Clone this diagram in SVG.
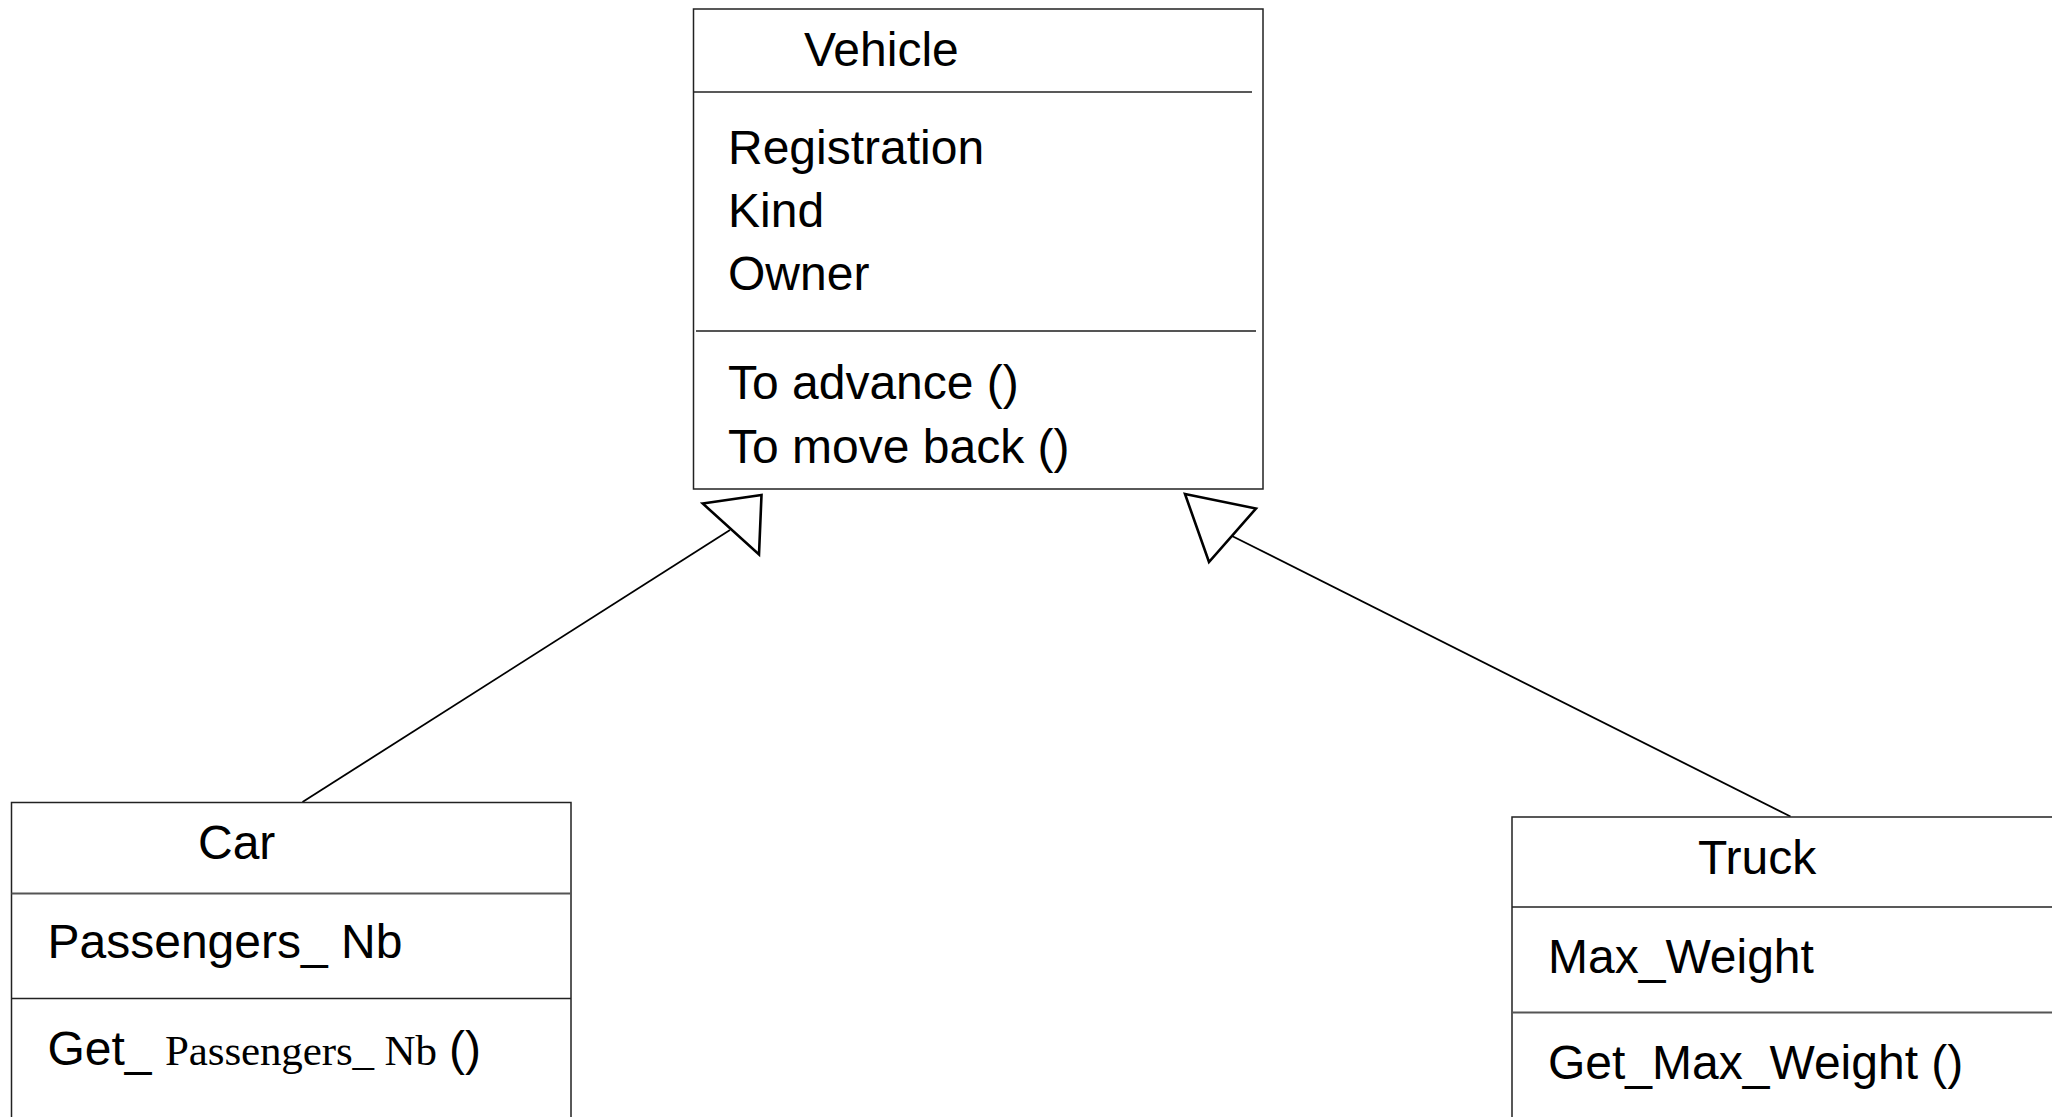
<svg xmlns="http://www.w3.org/2000/svg" width="2052" height="1117" viewBox="0 0 2052 1117">
<style>
.box{fill:#fff;stroke:#222;stroke-width:1.5}
.div{stroke:#222;stroke-width:1.5}
.div2{stroke:#555;stroke-width:2}
.t{font-family:"Liberation Sans",Arial,sans-serif;font-size:48px;fill:#000}
.s{font-family:"Liberation Serif","Times New Roman",serif;font-size:43px;fill:#000}
.edge{stroke:#000;stroke-width:1.8;fill:none}
.head{stroke:#000;stroke-width:2.6;fill:#fff;stroke-linejoin:miter}
</style>
<rect width="2052" height="1117" fill="#fff"/>
<g id="connectors">
<line class="edge" x1="302.5" y1="802" x2="730" y2="530"/>
<polygon class="head" points="702.7,503.5 761.5,495 759,554.5"/>
<line class="edge" x1="1790.5" y1="816.5" x2="1232" y2="536"/>
<polygon class="head" points="1185,494 1256,508.5 1209,562"/>
</g>
<g id="vehicle">
<rect class="box" x="693.5" y="9" width="569.5" height="480"/>
<line class="div" x1="693.5" y1="92" x2="1252" y2="92"/>
<line class="div2" x1="696" y1="331" x2="1256" y2="331"/>
<text class="t" x="804" y="66">Vehicle</text>
<text class="t" x="728" y="164">Registration</text>
<text class="t" x="728" y="227">Kind</text>
<text class="t" x="728" y="290">Owner</text>
<text class="t" x="728" y="399">To advance ()</text>
<text class="t" x="728" y="463">To move back ()</text>
</g>
<g id="car">
<rect class="box" x="11.5" y="802.5" width="559.5" height="340"/>
<line class="div2" x1="11.5" y1="893.5" x2="571" y2="893.5"/>
<line class="div" x1="11.5" y1="998.5" x2="571" y2="998.5"/>
<text class="t" x="198" y="859">Car</text>
<text class="t" x="47.5" y="958">Passengers_ Nb</text>
<text class="t" x="47.5" y="1065">Get_</text>
<text class="s" x="165" y="1065" textLength="272" lengthAdjust="spacing">Passengers_ Nb</text>
<text class="t" x="449" y="1065">()</text>
</g>
<g id="truck">
<rect class="box" x="1512" y="817" width="600" height="340"/>
<line class="div" x1="1512" y1="907" x2="2052" y2="907"/>
<line class="div2" x1="1512" y1="1012.5" x2="2052" y2="1012.5"/>
<text class="t" x="1698" y="874">Truck</text>
<text class="t" x="1548" y="973">Max_Weight</text>
<text class="t" x="1548" y="1079">Get_Max_Weight ()</text>
</g>
</svg>
